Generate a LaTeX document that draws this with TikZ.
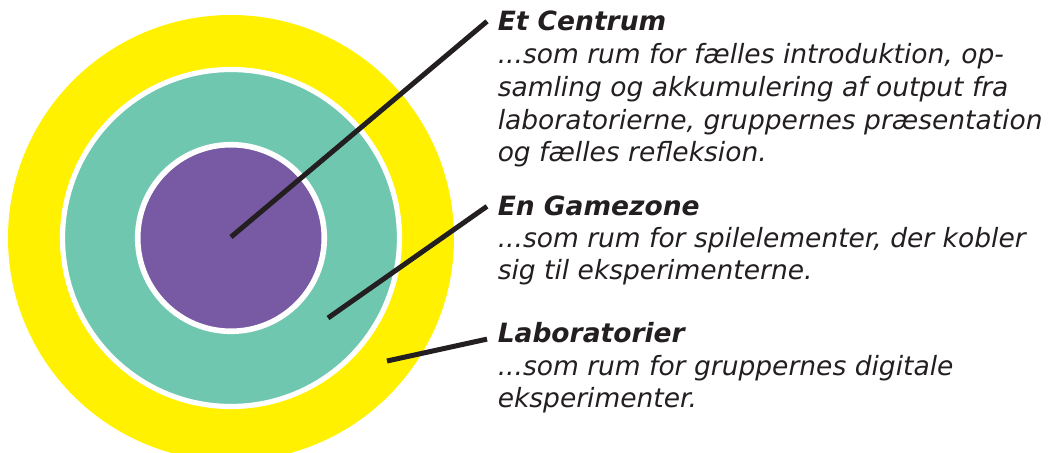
\documentclass[tikz,border=0pt]{standalone}
\usepackage{fontspec}
\setmainfont{DejaVu Sans}
\usetikzlibrary{positioning}
\definecolor{ringgul}{RGB}{255,241,0}
\definecolor{ringgroen}{RGB}{112,199,176}
\definecolor{ringlilla}{RGB}{120,90,164}
\definecolor{streg}{RGB}{35,31,32}
\tikzset{every picture/.style={line width=0.75pt}}
\tikzset{
  titel/.style={anchor=base west, inner sep=0pt, font=\fontsize{13.25pt}{16.4pt}\selectfont\bfseries\itshape, text=streg},
  brodtekst/.style={anchor=base west, inner sep=0pt, align=left, font=\fontsize{13.25pt}{16.4pt}\selectfont\itshape, text=streg},
  pind/.style={streg, line width=2.5pt}
}

\begin{document}
\begin{tikzpicture}[x=0.5pt, y=-0.5pt]
    \useasboundingbox (0,0) rectangle (1049,453);
    \clip (0,0) rectangle (1049,453);
    % ringene
    \fill[ringgul] (231,238) circle (223);
    \draw[fill=ringgroen, draw=white, line width=2.6pt] (231,238) circle (168.5);
    \draw[fill=ringlilla, draw=white, line width=2.8pt] (231,238) circle (93.3);
    \coordinate (midte) at (231,237);
    \coordinate (spil) at (328,318);
    \coordinate (lab) at (387,361);
    % tekster (base = sidste linjes grundlinje)
    \node[titel] (centrum) at (497,31) {Et Centrum};
    \node[brodtekst] (centrumtxt) at (497,162) {...som rum for fælles introduktion, op-\\samling og akkumulering af output fra\\laboratorierne, gruppernes præsentation\\og fælles refleksion.};
    \node[titel] (gamezone) at (497,216) {En Gamezone};
    \node[brodtekst] (gamezonetxt) at (497,280) {...som rum for spilelementer, der kobler\\sig til eksperimenterne.};
    \node[titel] (laboratorier) at (497,343) {Laboratorier};
    \node[brodtekst] (laboratoriertxt) at (497,408) {...som rum for gruppernes digitale\\eksperimenter.};
    % pinde
    \draw[pind] (midte) -- ([xshift=-5pt]centrum.west);
    \draw[pind] (spil) -- ([xshift=-5pt]gamezone.west);
    \draw[pind] (lab) -- ([xshift=-5pt, yshift=-3pt]laboratorier.west);
\end{tikzpicture}
\end{document}
